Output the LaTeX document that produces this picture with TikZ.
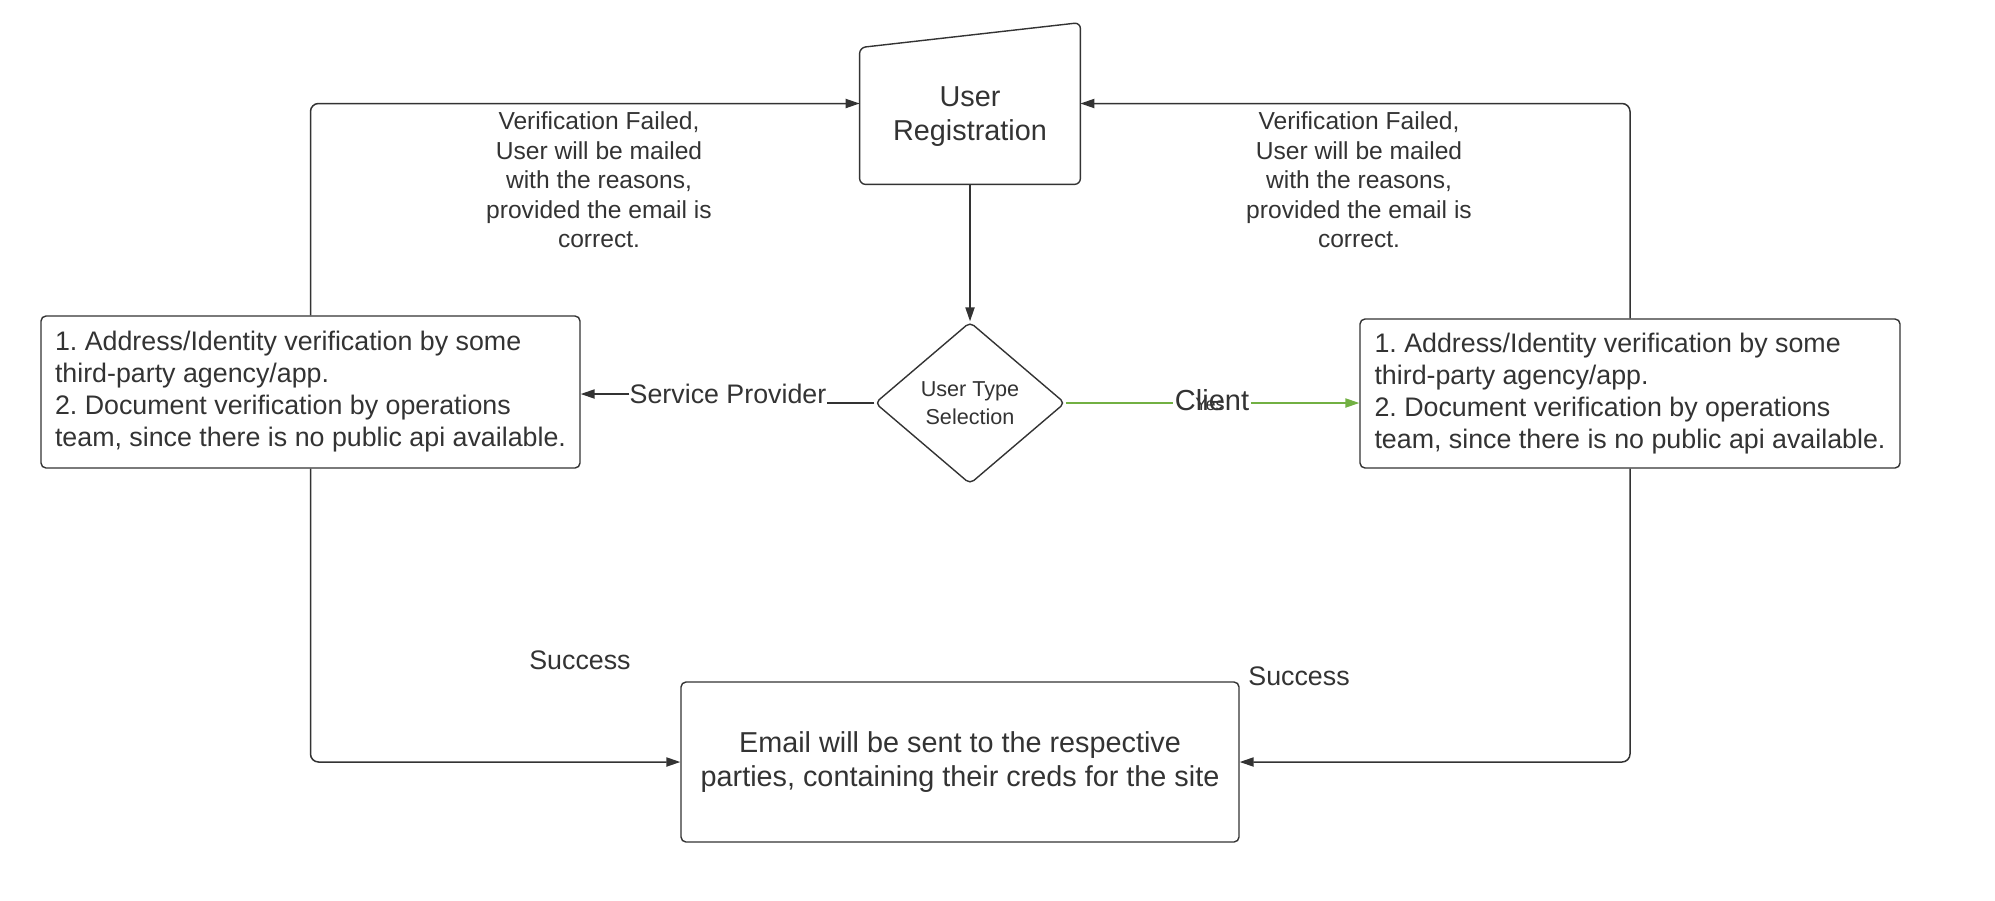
\documentclass[tikz,border=0pt]{standalone}
\usepackage{fontspec}
\setmainfont{Liberation Sans}
\usetikzlibrary{arrows.meta,shapes.geometric}
\definecolor{ink}{HTML}{333333}
\definecolor{okgreen}{HTML}{72B043}
\frenchspacing
\newcommand\regfont{\fontsize{14.4}{17}\selectfont}
\newcommand\boxfont{\fontsize{13.4}{16}\selectfont}
\newcommand\notefont{\fontsize{12.3}{14.8}\selectfont}
\newcommand\selfont{\fontsize{10.8}{14}\selectfont}
\begin{document}
\begin{tikzpicture}[x=0.5pt,y=-0.5pt,
    every node/.style={text=ink, inner sep=0pt},
    link/.style={draw=ink, line width=0.75pt, rounded corners=4pt},
    flow/.style={link, -{Triangle[length=7pt,width=4.6pt]}},
    box/.style={draw=ink, line width=0.7pt, rounded corners=2.5pt}]
	\useasboundingbox (0,0) rectangle (1995,900);

	\node[minimum width=110pt, minimum height=80.5pt] (reg) at (970,103.5) {};
	\draw[draw=ink, line width=0.7pt, rounded corners=3pt] (reg.south west) -- ([yshift=-12.5pt]reg.north west)
		-- (reg.north east) -- (reg.south east) -- cycle;
	\node[font=\regfont, align=center] (regtxt) at ([yshift=-6.6pt]reg.center) {User\\Registration};

	\node[box, diamond, aspect=1.17, minimum width=95pt, minimum height=81pt, font=\selfont, align=center]
		(sel) at (970,403) {User Type\\Selection};

	\node[box, minimum width=269.5pt, minimum height=76pt, font=\boxfont, align=left] (lbox) at (310.5,392)
		{1. Address/Identity verification by some\\third-party agency/app.\\2. Document verification by operations\\team, since there is no public api available.};
	\node[box, minimum width=270pt, minimum height=74.5pt, font=\boxfont, align=left] (rbox) at (1630,393.5)
		{1. Address/Identity verification by some\\third-party agency/app.\\2. Document verification by operations\\team, since there is no public api available.};

	\node[box, minimum width=279pt, minimum height=80pt, font=\regfont, align=center] (mail) at (960,762)
		{Email will be sent to the respective\\parties, containing their creds for the site};

	\foreach \x/\side in {599/L, 1359/R}
		\node[font=\notefont, align=center] (fail\side) at (\x,180)
			{Verification Failed,\\User will be mailed\\with the reasons,\\provided the email is\\correct.};

	\node[font=\boxfont] (okL) at (580,660) {Success};
	\node[font=\boxfont] (okR) at (1299,676) {Success};
	\node[font=\boxfont] (sp) at (728,394) {Service Provider};

	\draw[flow] (lbox.north) |- (reg.west);
	\draw[flow] (rbox.north) |- (reg.east);
	\draw[flow] (lbox.south) |- (mail.west);
	\draw[flow] (rbox.south) |- (mail.east);
	\draw[flow] (reg.south) -- (sel.north);
	\draw[link] (sel.west) -- (sp.east |- sel.west);
	\draw[flow] (sp.west) -- (lbox.east |- sp.west);
	\draw[flow, draw=okgreen] (sel.east) -- (rbox.west |- sel.east);

	\node[font=\fontsize{14.5}{17}\selectfont, fill=white, inner xsep=1pt] (cl) at (1212,400) {Client};
	\node[font=\fontsize{9}{11}\selectfont] (yes) at (1210,404) {Yes};
\end{tikzpicture}
\end{document}
